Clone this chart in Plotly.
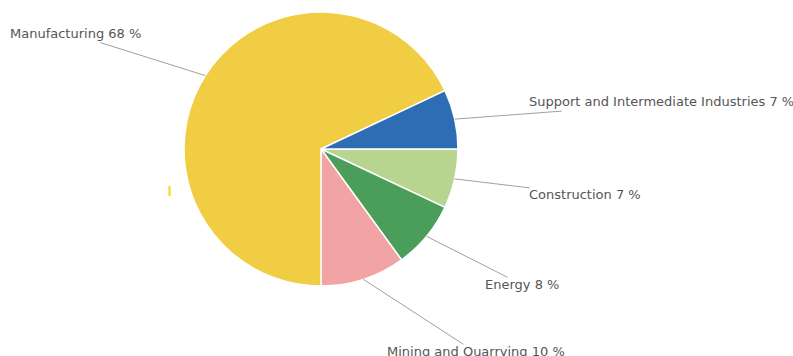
import math
import plotly.graph_objects as go

# Share of industry by sector (percent), listed clockwise from 3 o'clock
sectors = ["Construction", "Energy", "Mining and Quarrying", "Manufacturing",
           "Support and Intermediate Industries"]
shares = [7, 8, 10, 68, 7]
colors = ["#b8d58f", "#4b9e5a", "#f2a3a3", "#f1cd43", "#2e6db4"]

W, H = 793, 356
CX, CY, R = 321, 149, 137          # pie centre and radius in pixels

# Leader-line ends (offset from the slice edge) and text anchor (offset from line end)
leader = {
    "Construction": dict(line=(75, 9), text=(-3, 7), anchor="left"),
    "Energy": dict(line=(81, 41), text=(-25, 7), anchor="left"),
    "Mining and Quarrying": dict(line=(100, 65), text=(-78, 7), anchor="left"),
    "Manufacturing": dict(line=(-105, -33), text=(43, -9), anchor="right"),
    "Support and Intermediate Industries": dict(line=(107, -8), text=(-35, -10), anchor="left"),
}


def px(x, y):
    return x / W, 1 - y / H


fig = go.Figure(go.Pie(
    labels=sectors, values=shares, sort=False, direction="clockwise", rotation=90,
    marker=dict(colors=colors, line=dict(color="white", width=1.5)),
    textinfo="none", hoverinfo="label+percent",
    domain=dict(x=[(CX - R) / W, (CX + R) / W], y=[1 - (CY + R) / H, 1 - (CY - R) / H]),
    showlegend=False,
))

total = sum(shares)
start = 0.0
shapes, annotations = [], []
for name, val in zip(sectors, shares):
    frac = val / total
    mid = start + frac * 180.0       # clockwise degrees from 3 o'clock
    start += frac * 360.0
    a = math.radians(mid)
    sx, sy = CX + R * math.cos(a), CY + R * math.sin(a)
    cfg = leader[name]
    ex, ey = sx + cfg["line"][0], sy + cfg["line"][1]
    x0, y0 = px(sx, sy)
    x1, y1 = px(ex, ey)
    shapes.append(dict(type="line", xref="paper", yref="paper", x0=x0, y0=y0, x1=x1, y1=y1,
                       line=dict(color="#a0a0a0", width=1)))
    tx, ty = px(ex + cfg["text"][0], ey + cfg["text"][1])
    annotations.append(dict(
        x=tx, y=ty, xref="paper", yref="paper", showarrow=False,
        text=f"{name} {val} %", xanchor=cfg["anchor"], yanchor="middle",
        font=dict(family="DejaVu Sans", size=13, color="#555555"),
    ))

# small yellow tick left of the pie
shapes.append(dict(type="line", xref="paper", yref="paper",
                   x0=169.5 / W, x1=169.5 / W, y0=1 - 186 / H, y1=1 - 196 / H,
                   line=dict(color="#f5d80a", width=2)))

fig.update_layout(
    width=W, height=H, margin=dict(l=0, r=0, t=0, b=0),
    paper_bgcolor="#ffffff", plot_bgcolor="#ffffff",
    shapes=shapes, annotations=annotations,
)

fig.write_html("out.html")
